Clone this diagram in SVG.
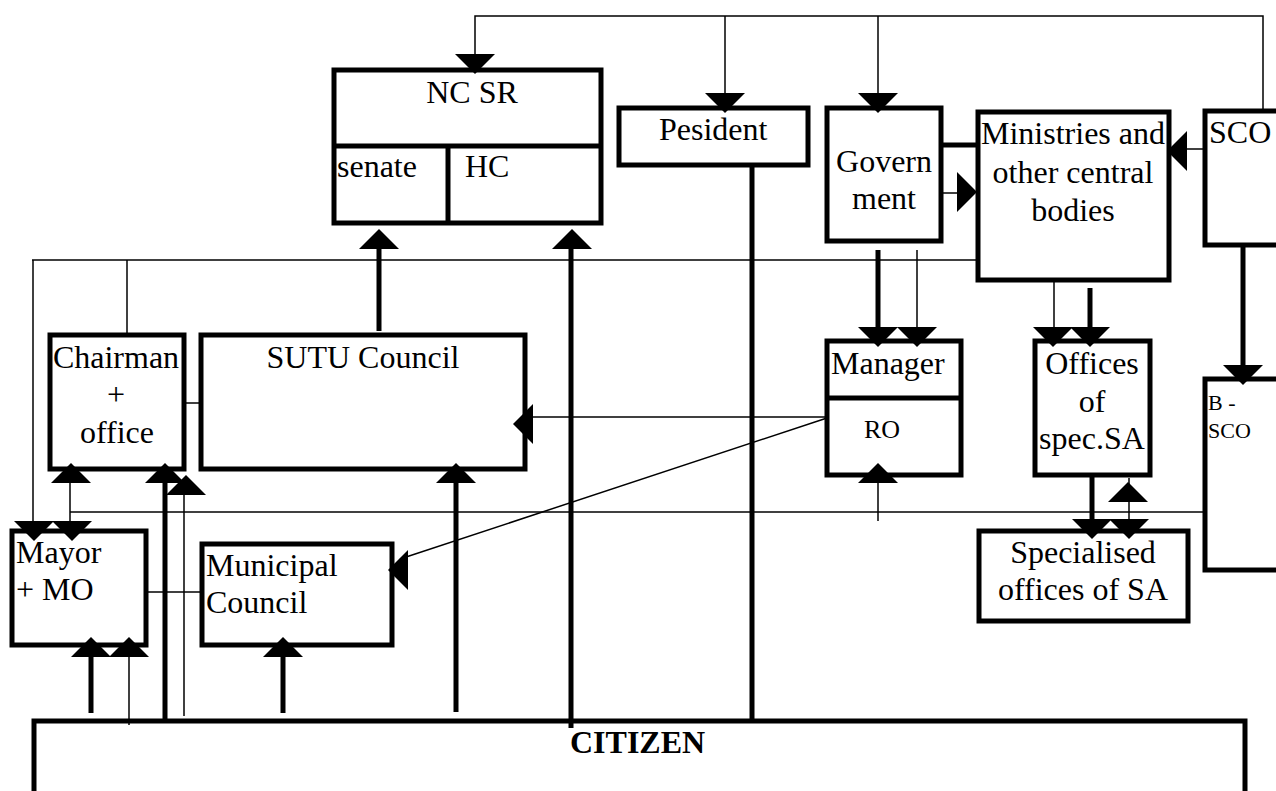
<svg xmlns="http://www.w3.org/2000/svg" xmlns:xlink="http://www.w3.org/1999/xlink" width="1276" height="791" viewBox="0 0 1276 791">
<style>
.box{fill:#fff;stroke:#000;stroke-width:5}
.div{stroke:#000;stroke-width:5;fill:none}
.thin{stroke:#000;stroke-width:1.5;fill:none}
.thick{stroke:#000;stroke-width:5;fill:none}
.ah{fill:#000}
text{font-family:"Liberation Serif","Times New Roman",serif;font-size:32px;fill:#000}
.c{text-anchor:middle}
.sm{font-size:22px}
.md{font-size:26px}
.b{font-weight:bold}
</style>
<defs>
<path id="ad" class="ah" d="M-20,-20 H20 L0,0 Z"/>
</defs>
<rect width="1276" height="791" fill="#fff"/>

<g id="nc-sr">
<rect class="box" x="334" y="70" width="267" height="153"/>
<line class="div" x1="334" y1="146" x2="601" y2="146"/>
<line class="div" x1="448" y1="146" x2="448" y2="223"/>
<text class="c" x="472" y="103">NC SR</text>
<text x="337" y="177">senate</text>
<text x="465" y="177">HC</text>
</g>
<g id="president">
<rect class="box" x="619" y="108" width="189" height="57"/>
<text x="659" y="140">Pesident</text>
</g>
<g id="government">
<rect class="box" x="827" y="108" width="114" height="133"/>
<text class="c" x="884" y="172">Govern</text>
<text class="c" x="884" y="209">ment</text>
</g>
<g id="ministries">
<rect class="box" x="978" y="112" width="191" height="168"/>
<text class="c" x="1073" y="144">Ministries and</text>
<text class="c" x="1073" y="183">other central</text>
<text class="c" x="1073" y="221">bodies</text>
</g>
<g id="sco">
<rect class="box" x="1205" y="111" width="95" height="134"/>
<text x="1209" y="143">SCO</text>
</g>
<g id="chairman">
<rect class="box" x="50" y="335" width="134" height="134"/>
<text class="c" x="116" y="368">Chairman</text>
<text class="c" x="116" y="405">+</text>
<text class="c" x="117" y="443">office</text>
</g>
<g id="sutu-council">
<rect class="box" x="201" y="335" width="324" height="134"/>
<text class="c" x="363" y="368">SUTU Council</text>
</g>
<g id="manager">
<rect class="box" x="827" y="341" width="134" height="134"/>
<line class="div" x1="827" y1="398" x2="961" y2="398"/>
<text x="831" y="374">Manager</text>
<text class="c md" x="882" y="438">RO</text>
</g>
<g id="offices-spec-sa">
<rect class="box" x="1035" y="341" width="115" height="134"/>
<text class="c" x="1092" y="374">Offices</text>
<text class="c" x="1092" y="412">of</text>
<text class="c" x="1092" y="449">spec.SA</text>
</g>
<g id="b-sco">
<rect class="box" x="1205" y="379" width="95" height="191"/>
<text class="sm" x="1208" y="410">B -</text>
<text class="sm" x="1208" y="438">SCO</text>
</g>
<g id="mayor">
<rect class="box" x="12" y="531" width="134" height="114"/>
<text x="16" y="563">Mayor</text>
<text x="16" y="600">+ MO</text>
</g>
<g id="municipal-council">
<rect class="box" x="202" y="544" width="190" height="101"/>
<text x="206" y="576">Municipal</text>
<text x="206" y="613">Council</text>
</g>
<g id="specialised-offices">
<rect class="box" x="979" y="531" width="209" height="90"/>
<text class="c" x="1083" y="563">Specialised</text>
<text class="c" x="1083" y="600">offices of SA</text>
</g>
<g id="citizen">
<path class="box" d="M34,800 V721 H1245 V800"/>
<text class="b" x="570" y="753">CITIZEN</text>
</g>

<g id="connectors">
<path class="thin" d="M475,60 V16 H1263 V111"/>
<line class="thin" x1="725" y1="16" x2="725" y2="100"/>
<line class="thin" x1="878" y1="16" x2="878" y2="100"/>
<use xlink:href="#ad" transform="translate(475,74)"/>
<use xlink:href="#ad" transform="translate(725,113)"/>
<use xlink:href="#ad" transform="translate(878,113)"/>
<line class="thick" x1="379" y1="331" x2="379" y2="240"/>
<use xlink:href="#ad" transform="translate(379,229) rotate(180)"/>
<line class="thick" x1="571" y1="728" x2="571" y2="240"/>
<use xlink:href="#ad" transform="translate(572,229) rotate(180)"/>
<line class="thick" x1="752" y1="165" x2="752" y2="721"/>
<line class="thick" x1="941" y1="145" x2="978" y2="145"/>
<line class="thin" x1="941" y1="193" x2="960" y2="193"/>
<use xlink:href="#ad" transform="translate(977,192) rotate(-90)"/>
<line class="thin" x1="1205" y1="149" x2="1180" y2="149"/>
<use xlink:href="#ad" transform="translate(1167,151) rotate(90)"/>
<line class="thin" x1="32" y1="260" x2="978" y2="260"/>
<line class="thin" x1="33" y1="260" x2="33" y2="525"/>
<use xlink:href="#ad" transform="translate(34,541)"/>
<line class="thin" x1="127" y1="260" x2="127" y2="335"/>
<line class="thick" x1="878" y1="250" x2="878" y2="330"/>
<line class="thin" x1="917" y1="250" x2="917" y2="330"/>
<use xlink:href="#ad" transform="translate(878,347)"/>
<use xlink:href="#ad" transform="translate(917,347)"/>
<line class="thin" x1="1054" y1="280" x2="1054" y2="330"/>
<line class="thick" x1="1090" y1="288" x2="1090" y2="330"/>
<use xlink:href="#ad" transform="translate(1053,347)"/>
<use xlink:href="#ad" transform="translate(1090,347)"/>
<line class="thick" x1="1243" y1="245" x2="1243" y2="370"/>
<use xlink:href="#ad" transform="translate(1243,385)"/>
<line class="thin" x1="184" y1="403" x2="201" y2="403"/>
<line class="thin" x1="827" y1="417" x2="528" y2="417"/>
<use xlink:href="#ad" transform="translate(513,424) rotate(90)"/>
<line class="thin" x1="827" y1="418" x2="400" y2="559"/>
<use xlink:href="#ad" transform="translate(388,570) rotate(90)"/>
<line class="thin" x1="878" y1="521" x2="878" y2="475"/>
<use xlink:href="#ad" transform="translate(878,463) rotate(180)"/>
<line class="thin" x1="70" y1="478" x2="70" y2="528"/>
<use xlink:href="#ad" transform="translate(71,463) rotate(180)"/>
<use xlink:href="#ad" transform="translate(72,541)"/>
<line class="thin" x1="70" y1="512" x2="1205" y2="512"/>
<line class="thick" x1="165" y1="721" x2="165" y2="475"/>
<use xlink:href="#ad" transform="translate(165,463) rotate(180)"/>
<line class="thin" x1="184" y1="716" x2="184" y2="490"/>
<use xlink:href="#ad" transform="translate(186,475) rotate(180)"/>
<line class="thick" x1="456" y1="712" x2="456" y2="475"/>
<use xlink:href="#ad" transform="translate(456,463) rotate(180)"/>
<line class="thin" x1="146" y1="592" x2="202" y2="592"/>
<line class="thick" x1="91" y1="713" x2="91" y2="650"/>
<use xlink:href="#ad" transform="translate(91,637) rotate(180)"/>
<line class="thin" x1="129" y1="725" x2="129" y2="650"/>
<use xlink:href="#ad" transform="translate(129,637) rotate(180)"/>
<line class="thick" x1="283" y1="713" x2="283" y2="650"/>
<use xlink:href="#ad" transform="translate(283,637) rotate(180)"/>
<line class="thick" x1="1092" y1="475" x2="1092" y2="525"/>
<use xlink:href="#ad" transform="translate(1092,539)"/>
<line class="thin" x1="1129" y1="478" x2="1129" y2="525"/>
<use xlink:href="#ad" transform="translate(1128,482) rotate(180)"/>
<use xlink:href="#ad" transform="translate(1129,539)"/>
</g>
</svg>
